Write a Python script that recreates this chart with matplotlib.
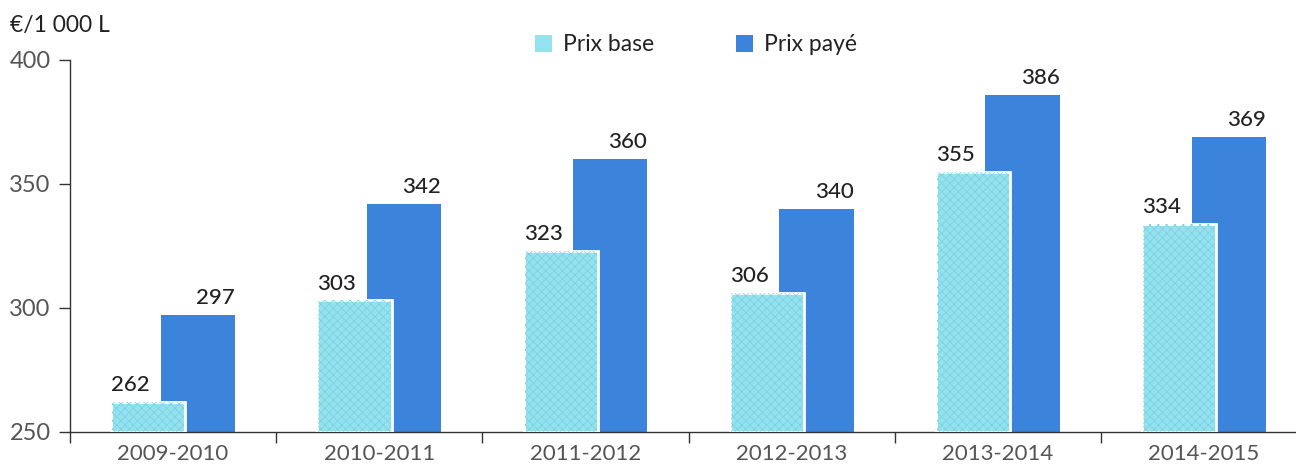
import matplotlib
matplotlib.use("Agg")
import matplotlib.pyplot as plt
import numpy as np

# Prix du lait par campagne, en euros pour 1 000 litres
campagnes  = ["2009-2010", "2010-2011", "2011-2012", "2012-2013", "2013-2014", "2014-2015"]
prix_base  = [262, 303, 323, 306, 355, 334]
prix_paye  = [297, 342, 360, 340, 386, 369]

BASE = "#92e2f0"
PAYE = "#3c83dc"
TXT  = "#222222"
GREY = "#555555"
FLOOR = 250

plt.rcParams.update({
    "font.family": ["Lato", "DejaVu Sans"],
    "hatch.linewidth": 0.5,
})

fig = plt.figure(figsize=(12.96, 4.72), dpi=100)
ax = fig.add_axes([0.054, 0.085, 0.946, 0.788])

x = np.arange(len(campagnes))
w = 0.36
off = 0.12

# dark bars behind, light bars overlap them with a white edge
b_paye = ax.bar(x + off, np.array(prix_paye) - FLOOR, w, bottom=FLOOR,
                color=PAYE, zorder=2)
b_base = ax.bar(x - off, np.array(prix_base) - FLOOR, w, bottom=FLOOR,
                color=BASE, edgecolor="white", linewidth=2, zorder=3)
# grainy texture on the light bars
ax.bar(x - off, np.array(prix_base) - FLOOR, w - 0.01, bottom=FLOOR,
       facecolor="none", edgecolor="#7ccfe0", hatch="xxxx", linewidth=0, zorder=3.5)

for rect, v in zip(b_base, prix_base):
    ax.annotate(f"{v}", xy=(rect.get_x(), v), xytext=(0, 5),
                textcoords="offset points", ha="left", va="bottom",
                fontsize=16, color=TXT, fontweight="medium")
for rect, v in zip(b_paye, prix_paye):
    ax.annotate(f"{v}", xy=(rect.get_x() + rect.get_width(), v), xytext=(0, 5),
                textcoords="offset points", ha="right", va="bottom",
                fontsize=16, color=TXT, fontweight="medium")

ax.set_xlim(-0.5, 5.446)
ax.set_ylim(FLOOR, 400)
ax.set_yticks([250, 300, 350, 400])
ax.tick_params(axis="y", direction="out", length=8, width=1, colors="#333333",
               labelcolor=GREY, labelsize=17, pad=6)

# category labels centred, tick marks on the boundaries
ax.set_xticks(x)
ax.set_xticklabels(campagnes, fontsize=16, color=GREY)
ax.tick_params(axis="x", which="major", length=0, pad=9)
ax.set_xticks(np.arange(-0.5, 5.5, 1), minor=True)
ax.tick_params(axis="x", which="minor", direction="out", length=8, width=1,
               color="#333333")

for s in ["top", "right"]:
    ax.spines[s].set_visible(False)
for s in ["left", "bottom"]:
    ax.spines[s].set_color("#333333")
    ax.spines[s].set_linewidth(1)

fig.text(0.008, 0.947, "€/1 000 L", fontsize=16.5, color=TXT, va="center")

handles = [plt.Rectangle((0, 0), 1, 1, facecolor=BASE, edgecolor="none"),
           plt.Rectangle((0, 0), 1, 1, facecolor=PAYE, edgecolor="none")]
fig.legend(handles, ["Prix base", "Prix payé"], loc="center",
           bbox_to_anchor=(0.537, 0.905), ncol=2, frameon=False, fontsize=16.5,
           handlelength=0.75, handleheight=0.75, handletextpad=0.45,
           columnspacing=3.6, labelcolor=TXT)

fig.savefig("out.png", dpi=100)
